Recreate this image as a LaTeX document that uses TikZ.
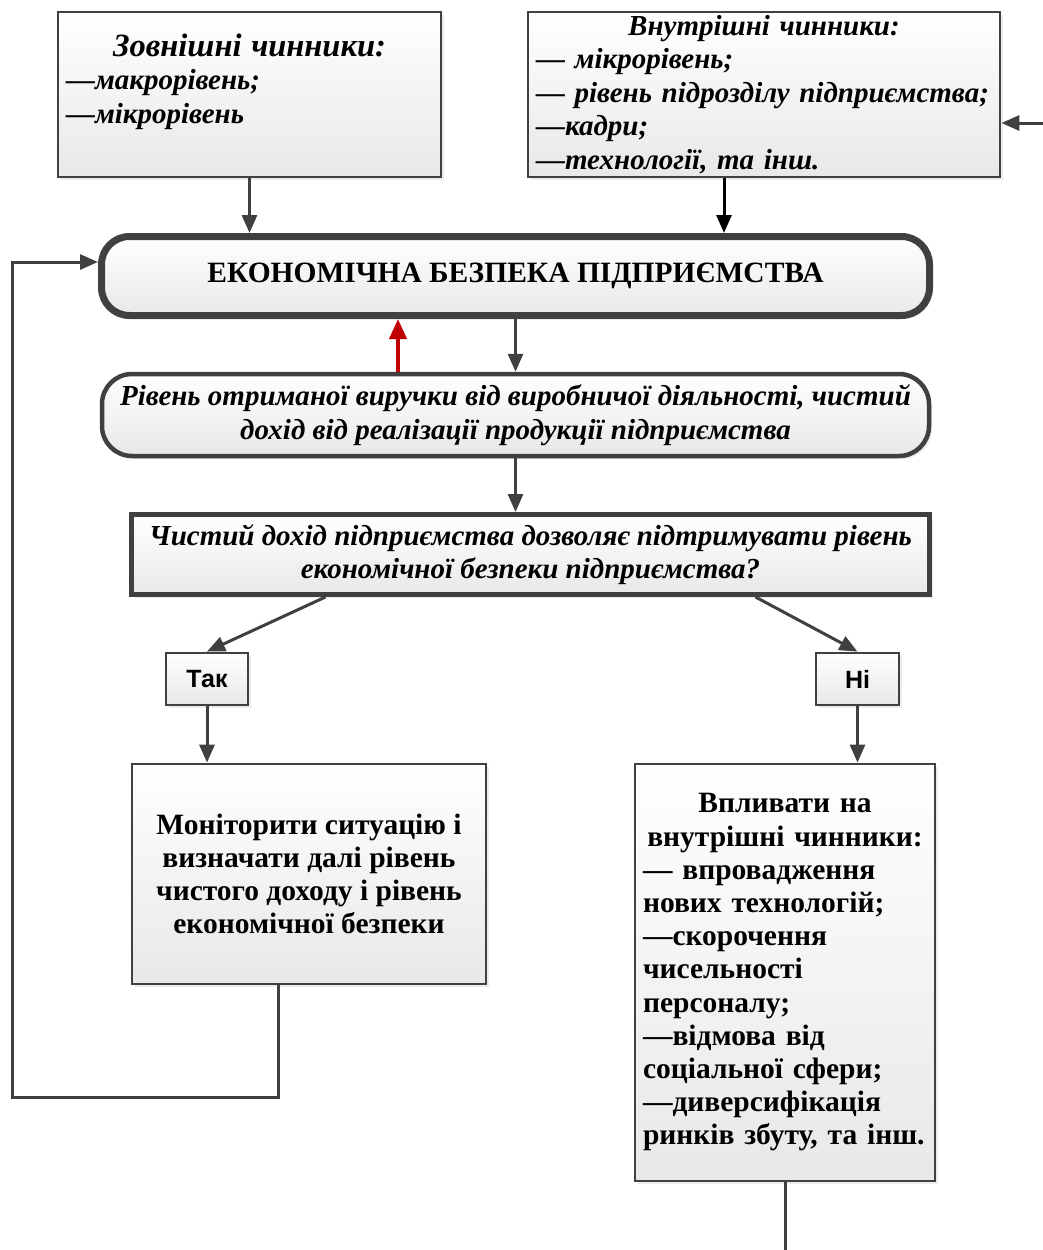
\documentclass[tikz,border=0pt]{standalone}
\usepackage{fontspec}
\setmainfont{Liberation Serif}
\newfontfamily\labelfont{Liberation Sans}
\usetikzlibrary{positioning}
\usetikzlibrary{arrows.meta}
\usetikzlibrary{shadows}
\definecolor{edgegray}{HTML}{404040}
\definecolor{arrowred}{HTML}{C00000}
\tikzset{x=1pt, y=1pt, % one unit is one pixel of the picture
boxbase/.style={ % shared look of all boxes
draw=edgegray,
top color=white,
bottom color=black!9,
drop shadow={shadow xshift=3pt, shadow yshift=-3pt, opacity=.15},
inner sep=0pt},
factbox/.style={ % factor boxes on top
boxbase,
line width=2.8pt,
align=left,
font=\fontsize{29}{33.5}\selectfont\bfseries\itshape},
corebox/.style={ % rounded boxes of the main column
boxbase,
rounded corners=28pt,
align=center},
askbox/.style={ % the question box
boxbase,
line width=5pt,
align=center,
font=\fontsize{29}{33}\selectfont\bfseries\itshape},
answerbox/.style={ % small yes / no boxes
boxbase,
line width=2.8pt,
minimum width=82pt, minimum height=52pt,
font=\fontsize{25}{28}\selectfont\labelfont\bfseries},
actionbox/.style={ % boxes of actions at the bottom
boxbase,
line width=2.8pt,
font=\fontsize{29.5}{33.2}\selectfont\bfseries},
flow/.style={ % connectors between boxes
draw=edgegray,
line width=3pt,
-{Triangle[length=18pt,width=15pt]}}}

\begin{document}
\begin{tikzpicture}
  \useasboundingbox (0,0) rectangle (1043,-1250);
  % factors
  \node[factbox, minimum width=383pt, minimum height=165pt, text width=367pt] (zovn) at (249.5,-94.5)
    {\makebox[\linewidth]{\fontsize{32.5}{33.5}\selectfont Зовнішні чинники:}\\
     —макрорівень;\\
     —мікрорівень\rule[-32pt]{0pt}{32pt}};
  \node[factbox, minimum width=472pt, minimum height=165pt, text width=456pt] (vnutr) at (764,-94.5)
    {\makebox[\linewidth]{Внутрішні чинники:}\\
     — мікрорівень;\\
     — рівень підрозділу підприємства;\\
     —кадри;\\
     —технології, та інш.};
  % main column
  \node[corebox, line width=7pt, minimum width=828pt, minimum height=79pt,
        font=\fontsize{29.5}{33}\selectfont\bfseries] (bezpeka) at (515.5,-276)
    {ЕКОНОМІЧНА БЕЗПЕКА ПІДПРИЄМСТВА};
  \node[corebox, line width=4.5pt, rounded corners=30pt, minimum width=827pt, minimum height=82pt,
        font=\fontsize{29}{34}\selectfont\bfseries\itshape] (dohid) at (515.5,-415)
    {Рівень отриманої виручки від виробничої діяльності, чистий\\
     дохід від реалізації продукції підприємства};
  \node[askbox, minimum width=798pt, minimum height=80pt] (pytannia) at (530.5,-554.5)
    {Чистий дохід підприємства дозволяє підтримувати рівень\\
     економічної безпеки підприємства?};
  % answers
  \node[answerbox] (tak) at (207,-679) {Так};
  \node[answerbox, minimum width=83pt] (ni) at (857.5,-679) {Ні};
  % actions
  \node[actionbox, minimum width=354pt, minimum height=220pt, align=center] (monit) at (309,-874)
    {Моніторити ситуацію і\\
     визначати далі рівень\\
     чистого доходу і рівень\\
     економічної безпеки};
  \node[actionbox, minimum width=300pt, minimum height=417pt, text width=284pt, align=left] (vplyv) at (785,-972.5)
    {\makebox[\linewidth]{Впливати на}\\
     \makebox[\linewidth]{внутрішні чинники:}\\
     — впровадження\\
     нових технологій;\\
     —скорочення\\
     чисельності\\
     персоналу;\\
     —відмова від\\
     соціальної сфери;\\
     —диверсифікація\\
     ринків збуту, та інш.};
  % free ends
  \coordinate (rightin) at (1043,-123);
  \coordinate (loopcorner) at (12,-1097);
  \coordinate (bottomend) at (785,-1250);
  % connectors
  \draw[flow] (zovn.south) -- (zovn.south |- bezpeka.north);
  \draw[flow, draw=black] ([xshift=-40pt]vnutr.south) -- ([xshift=-40pt]vnutr.south |- bezpeka.north);
  \draw[flow] (rightin) -- (vnutr.east |- rightin);
  \draw[flow] (bezpeka.south) -- (dohid.north);
  \draw[flow, draw=arrowred, line width=4pt, -{Triangle[length=20pt,width=17pt]}]
    ([xshift=-117.5pt]dohid.north) -- ([xshift=-117.5pt]dohid.north |- bezpeka.south);
  \draw[flow] (dohid.south) -- (dohid.south |- pytannia.north);
  \draw[flow] ([xshift=-205pt]pytannia.south) -- (tak.north);
  \draw[flow] ([xshift=225pt]pytannia.south) -- (ni.north);
  \draw[flow] (tak.south) -- (tak.south |- monit.north);
  \draw[flow] (ni.south) -- (ni.south |- vplyv.north);
  \draw[flow] ([xshift=-31pt]monit.south) |- (loopcorner) |- ([yshift=14pt]bezpeka.west);
  \draw[flow, -] (vplyv.south) -- (bottomend);
\end{tikzpicture}
\end{document}
